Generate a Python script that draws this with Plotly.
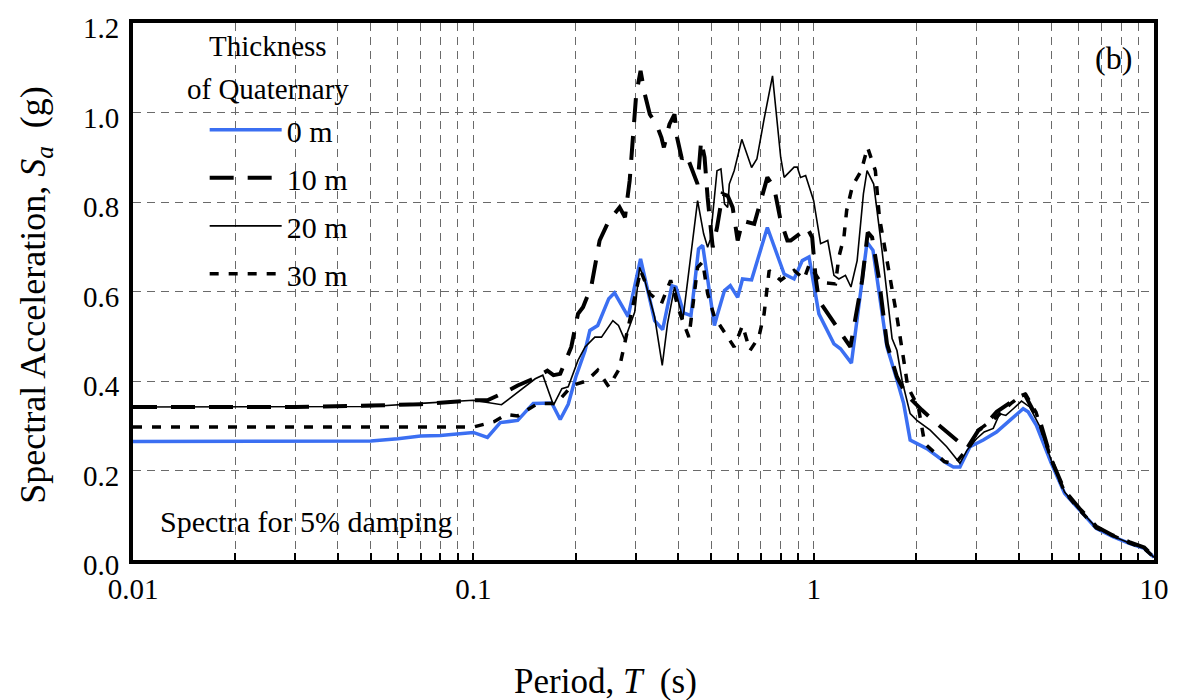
import plotly.graph_objects as go

# ---------------- data ----------------
T_0m = [0.01, 0.02, 0.03, 0.04, 0.05, 0.06, 0.07, 0.08, 0.09, 0.10, 0.11, 0.12, 0.135, 0.15, 0.17,
        0.18, 0.19, 0.20, 0.213, 0.22, 0.232, 0.25, 0.26, 0.285, 0.31, 0.341, 0.36, 0.383, 0.394,
        0.415, 0.436, 0.459, 0.472, 0.511, 0.522, 0.547, 0.569, 0.598, 0.618, 0.657, 0.731, 0.819,
        0.876, 0.926, 0.969, 1.036, 1.147, 1.199, 1.291, 1.357, 1.435, 1.494, 1.553, 1.642, 1.757,
        1.838, 1.921, 2.15, 2.46, 2.574, 2.69, 2.879, 3.15, 3.445, 3.77, 4.126, 4.267, 4.512, 4.993,
        5.46, 6.04, 6.76, 7.57, 8.46, 9.36, 10.0]
Sa_0m = [0.265, 0.265, 0.265, 0.265, 0.266, 0.271, 0.277, 0.278, 0.281, 0.285, 0.274, 0.307, 0.312, 0.350, 0.351,
         0.314, 0.348, 0.409, 0.468, 0.513, 0.524, 0.584, 0.597, 0.544, 0.673, 0.535, 0.515, 0.613, 0.610,
         0.552, 0.546, 0.695, 0.703, 0.524, 0.550, 0.602, 0.613, 0.587, 0.628, 0.626, 0.743, 0.639,
         0.628, 0.669, 0.677, 0.550, 0.483, 0.472, 0.440, 0.565, 0.710, 0.692, 0.602, 0.476, 0.402,
         0.350, 0.268, 0.249, 0.216, 0.208, 0.208, 0.253, 0.268, 0.286, 0.312, 0.338, 0.331, 0.301, 0.216,
         0.149, 0.112, 0.071, 0.052, 0.037, 0.026, 0.006]

T_10m = [0.01, 0.02, 0.03, 0.05, 0.07, 0.10, 0.11, 0.124, 0.135, 0.15, 0.165, 0.172, 0.18, 0.194, 0.203,
         0.21, 0.222, 0.235, 0.25, 0.269, 0.279, 0.288, 0.301, 0.31, 0.319, 0.33, 0.345, 0.357, 0.363,
         0.377, 0.39, 0.397, 0.41, 0.422, 0.436, 0.456, 0.467, 0.478, 0.488, 0.499, 0.505, 0.52, 0.54,
         0.559, 0.578, 0.598, 0.618, 0.669, 0.699, 0.731, 0.765, 0.80, 0.837, 0.856, 0.937, 0.956, 0.99,
         1.013, 1.036, 1.159, 1.282, 1.388, 1.442, 1.485, 1.553, 1.642, 1.757, 1.87, 2.01, 2.08, 2.30,
         2.46, 2.66, 2.82, 3.05, 3.15, 3.45, 3.56, 3.99, 4.17, 4.41, 4.60, 4.99, 5.46, 6.04, 6.76, 7.57,
         8.46, 9.36, 10.0]
Sa_10m = [0.342, 0.342, 0.342, 0.345, 0.348, 0.357, 0.357, 0.375, 0.390, 0.405, 0.423, 0.413, 0.416, 0.476, 0.550,
          0.565, 0.610, 0.714, 0.758, 0.788, 0.766, 0.848, 1.041, 1.093, 1.041, 0.996, 0.974, 0.944, 0.922,
          0.974, 0.996, 0.944, 0.896, 0.907, 0.878, 0.840, 0.937, 0.900, 0.810, 0.743, 0.699, 0.743, 0.818,
          0.814, 0.788, 0.714, 0.758, 0.751, 0.803, 0.855, 0.833, 0.758, 0.714, 0.714, 0.736, 0.743, 0.721,
          0.632, 0.580, 0.524, 0.476, 0.625, 0.732, 0.721, 0.632, 0.483, 0.409, 0.370, 0.345, 0.335, 0.305,
          0.286, 0.264, 0.249, 0.290, 0.297, 0.331, 0.338, 0.364, 0.370, 0.335, 0.316, 0.225, 0.155, 0.115,
          0.075, 0.055, 0.040, 0.028, 0.006]

T_20m = [0.01, 0.02, 0.03, 0.05, 0.07, 0.10, 0.121, 0.135, 0.152, 0.16, 0.172, 0.182, 0.19, 0.203, 0.213,
         0.2275, 0.238, 0.257, 0.267, 0.2785, 0.298, 0.308, 0.319, 0.341, 0.359, 0.372, 0.39, 0.413, 0.456,
         0.475, 0.488, 0.497, 0.52, 0.534, 0.547, 0.559, 0.565, 0.584, 0.615, 0.657, 0.681, 0.715, 0.757,
         0.80, 0.819, 0.876, 0.895, 0.915, 0.947, 1.0, 1.048, 1.10, 1.147, 1.186, 1.24, 1.287, 1.342, 1.40,
         1.435, 1.501, 1.588, 1.70, 1.757, 1.82, 1.921, 2.01, 2.2, 2.46, 2.69, 2.82, 3.01, 3.17, 3.37, 3.52,
         3.67, 3.86, 4.08, 4.31, 4.6, 4.99, 5.46, 6.04, 6.76, 7.57, 8.46, 9.36, 10.0]
Sa_20m = [0.342, 0.342, 0.342, 0.343, 0.350, 0.357, 0.347, 0.375, 0.405, 0.413, 0.346, 0.383, 0.387, 0.446, 0.476,
          0.498, 0.498, 0.535, 0.524, 0.492, 0.554, 0.654, 0.625, 0.543, 0.435, 0.528, 0.610, 0.539, 0.803,
          0.729, 0.699, 0.717, 0.870, 0.874, 0.796, 0.788, 0.840, 0.870, 0.940, 0.877, 0.896, 0.985, 1.082,
          0.900, 0.855, 0.878, 0.878, 0.855, 0.859, 0.803, 0.707, 0.714, 0.636, 0.628, 0.636, 0.610, 0.669, 0.818,
          0.870, 0.840, 0.692, 0.495, 0.468, 0.400, 0.327, 0.312, 0.290, 0.253, 0.216, 0.245, 0.271, 0.286, 0.294, 0.327,
          0.323, 0.338, 0.355, 0.342, 0.301, 0.223, 0.152, 0.113, 0.073, 0.053, 0.038, 0.027, 0.006]

T_30m = [0.01, 0.02, 0.03, 0.05, 0.07, 0.10, 0.115, 0.125, 0.135, 0.155, 0.17, 0.18, 0.195, 0.215, 0.232,
         0.25, 0.268, 0.285, 0.31, 0.33, 0.357, 0.38, 0.405, 0.43, 0.456, 0.472, 0.488, 0.511, 0.558, 0.584,
         0.618, 0.65, 0.69, 0.715, 0.74, 0.80, 0.876, 0.937, 0.97, 1.05, 1.159, 1.186, 1.227, 1.25, 1.30,
         1.38, 1.44, 1.518, 1.56, 1.61, 1.70, 1.757, 1.84, 1.89, 2.03, 2.12, 2.42, 2.6, 2.88, 3.07, 3.45,
         3.8, 4.08, 4.2, 4.5, 4.99, 5.46, 6.04, 6.76, 7.57, 8.46, 9.36, 10.0]
Sa_30m = [0.297, 0.297, 0.297, 0.297, 0.297, 0.297, 0.309, 0.325, 0.322, 0.350, 0.350, 0.360, 0.390, 0.400, 0.424,
          0.387, 0.426, 0.520, 0.647, 0.595, 0.573, 0.625, 0.550, 0.498, 0.654, 0.666, 0.595, 0.543, 0.498, 0.476,
          0.524, 0.468, 0.498, 0.550, 0.647, 0.625, 0.647, 0.628, 0.660, 0.620, 0.617, 0.677, 0.721, 0.781, 0.836,
          0.870, 0.922, 0.870, 0.766, 0.707, 0.602, 0.543, 0.446, 0.387, 0.342, 0.260, 0.220, 0.215, 0.255, 0.292, 0.320,
          0.350, 0.368, 0.370, 0.330, 0.225, 0.152, 0.112, 0.072, 0.054, 0.038, 0.026, 0.006]

legend_names = ["0 m", "10 m", "20 m", "30 m"]
x_major_vals = [0.01, 0.1, 1, 10]
x_major_text = ["0.01", "0.1", "1", "10"]
x_minor_vals = [round(m * d, 4) for d in (0.01, 0.1, 1) for m in range(2, 10)]
y_ticks = [0.0, 0.2, 0.4, 0.6, 0.8, 1.0, 1.2]

FONT = "Liberation Serif, Times New Roman, serif"

fig = go.Figure()
fig.add_trace(go.Scatter(x=T_0m, y=Sa_0m, mode="lines", name=legend_names[0],
                         line=dict(color="#3b6ff2", width=3.5), legendgroup="a"))
fig.add_trace(go.Scatter(x=T_10m, y=Sa_10m, mode="lines", name=legend_names[1],
                         line=dict(color="black", width=4, dash="24px,14px"), legendgroup="b"))
fig.add_trace(go.Scatter(x=T_20m, y=Sa_20m, mode="lines", name=legend_names[2],
                         line=dict(color="black", width=1.6), legendgroup="c"))
fig.add_trace(go.Scatter(x=T_30m, y=Sa_30m, mode="lines", name=legend_names[3],
                         line=dict(color="black", width=3.5, dash="9px,10px"), legendgroup="d"))

GRID = dict(showgrid=True, gridcolor="#6a6a6a", gridwidth=1, griddash="8px,6px")

fig.update_xaxes(type="log", range=[-2, 1], tickmode="array", tickvals=x_major_vals, ticktext=x_major_text,
                 ticks="inside", ticklen=7, tickwidth=2, tickcolor="black",
                 minor=dict(tickmode="array", tickvals=x_minor_vals, ticks="inside", ticklen=7,
                            tickwidth=2, tickcolor="black", **GRID),
                 showline=True, linecolor="black", linewidth=4, mirror=True,
                 tickfont=dict(family=FONT, size=29, color="black"), zeroline=False, **GRID)
fig.update_yaxes(range=[0, 1.2], tickmode="array", tickvals=y_ticks, tickformat=".1f", ticks="",
                 showline=True, linecolor="black", linewidth=4, mirror=True,
                 tickfont=dict(family=FONT, size=29, color="black"), zeroline=False,
                 ticklabelstandoff=4, ticklabelshift=5, **GRID)

fig.update_layout(
    width=1181, height=700,
    margin=dict(l=133, r=23, t=22, b=140),
    plot_bgcolor="white", paper_bgcolor="white",
    font=dict(family=FONT, color="black"),
    showlegend=True,
    legend=dict(x=0.0702, y=0.8494, xanchor="left", yanchor="top",
                bgcolor="rgba(255,255,255,0)", borderwidth=0,
                font=dict(family=FONT, size=30, color="black"),
                tracegroupgap=6, itemwidth=72),
    annotations=[
        dict(text="Thickness", x=0.1327, y=0.958, xref="paper", yref="paper", showarrow=False,
             xanchor="center", yanchor="middle", font=dict(family=FONT, size=29, color="black")),
        dict(text="of Quaternary", x=0.1327, y=0.877, xref="paper", yref="paper", showarrow=False,
             xanchor="center", yanchor="middle", font=dict(family=FONT, size=29, color="black")),
        dict(text="Period, <i>T</i>  (s)", x=0.4624, y=-0.226, xref="paper", yref="paper",
             xanchor="center", yanchor="middle", showarrow=False,
             font=dict(family=FONT, size=35, color="black")),
        dict(text="Spectral Acceleration, <i>S</i><i><sub>a</sub></i>  (g)", x=-0.0956, y=0.493,
             xref="paper", yref="paper", textangle=-90, xanchor="center", yanchor="middle",
             showarrow=False, font=dict(family=FONT, size=36, color="black")),
        dict(text="(b)", x=0.96, y=0.935, xref="paper", yref="paper", showarrow=False,
             xanchor="center", yanchor="middle", font=dict(family=FONT, size=32, color="black")),
        dict(text="Spectra for 5% damping", x=0.0244, y=0.0725, xref="paper", yref="paper",
             showarrow=False, xanchor="left", yanchor="middle",
             font=dict(family=FONT, size=30, color="black")),
    ],
)

fig.write_html("out.html")
